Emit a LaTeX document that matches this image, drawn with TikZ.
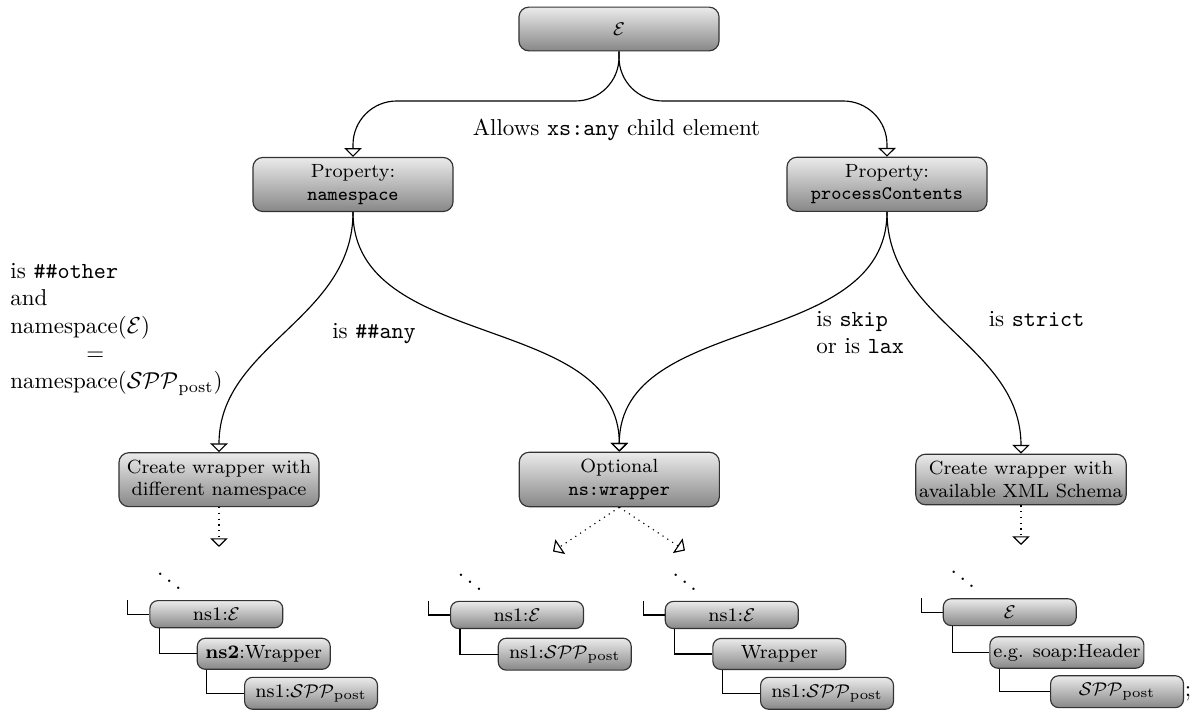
\documentclass[tikz,border=0pt]{standalone}
\usetikzlibrary{arrows.meta}
\begin{document}
\begin{tikzpicture}[x=0.4348pt, y=-0.4348pt,
  box/.style={draw=black!80, line width=0.5pt, rounded corners=4.3pt,
    top color=black!8, bottom color=black!47, font=\fontsize{8.3}{9.8}\selectfont,
    align=center, inner xsep=1.5pt, inner ysep=3.1pt, minimum width=87pt},
  leaf/.style={draw=black!80, line width=0.5pt, rounded corners=3.5pt,
    top color=black!8, bottom color=black!47, font=\fontsize{8.3}{9.8}\selectfont,
    inner xsep=1.5pt, inner ysep=3.1pt, minimum width=57.8pt, anchor=west},
  flow/.style={line width=0.5pt, -{Triangle[open,width=7.6pt,length=3.8pt]}},
  hint/.style={flow, dotted},
  link/.style={line width=0.5pt},
  lbl/.style={inner sep=0pt},
  dots/.style={inner sep=0pt, anchor=base}
]
\useasboundingbox (0,0) rectangle (1190,713);

% decision nodes
\node[box, minimum height=19pt] (E) at (619,29) {$\mathcal{E}$};
\node[box] (ns) at (353,184.5) {Property:\\\texttt{namespace}};
\node[box] (pc) at (887,184.3) {Property:\\\texttt{processContents}};
\node[box] (wl) at (219,479.7) {Create wrapper with\\different namespace};
\node[box] (opt) at (619.3,479.5) {Optional\\\texttt{ns:wrapper}};
\node[box] (wr) at (1021,479.5) {Create wrapper with\\available XML Schema};

% connectors between the decision nodes
\coordinate (cL) at (353,101);
\coordinate (cR) at (887,101);
\draw[flow, rounded corners=19pt] (E.south) |- (cL) -- (ns.north);
\draw[flow, rounded corners=19pt] (E.south) |- (cR) -- (pc.north);
\draw[flow] (ns.south) to[out=-90,in=90] (wl.north);
\draw[flow] (ns.south) to[out=-90,in=90] (opt.north);
\draw[flow] (pc.south) to[out=-90,in=90] (opt.north);
\draw[flow] (pc.south) to[out=-90,in=90] (wr.north);

% labels
\node[lbl, anchor=base] (allow) at (616.5,136) {Allows \texttt{xs:any} child element};
\node[lbl, anchor=north west, align=left] (cond) at (10,262.6)
  {is \texttt{\#\#other}\\and\\namespace($\mathcal{E}$)\\\hspace*{33pt}$=$\\namespace($\mathcal{SPP}_{\mathrm{post}}$)};
\node[lbl, anchor=base] (anyl) at (374,339) {is \texttt{\#\#any}};
\node[lbl, anchor=north west, align=left] (skipl) at (816,310.7) {is \texttt{skip}\\or is \texttt{lax}};
\node[lbl, anchor=base west] (strictl) at (988.3,326.7) {is \texttt{strict}};

% dotted hints towards the resulting trees
\coordinate (dWL) at (219,547);
\coordinate (dO1) at (553,551.5);
\coordinate (dO2) at (685,550.5);
\coordinate (dWR) at (1021,545);
\draw[hint] (wl.south) -- (dWL);
\draw[hint] (opt.south) -- (dO1);
\draw[hint] (opt.south) -- (dO2);
\draw[hint] (wr.south) -- (dWR);

% tree 1: different namespace
\node[leaf] (a1) at (149.3,614.2) {ns1:$\mathcal{E}$};
\node[leaf] (b1) at (196.7,653.8) {\textbf{ns2}:Wrapper};
\node[leaf] (c1) at (244,693.3) {ns1:$\mathcal{SPP}_{\mathrm{post}}$};
\coordinate (r1) at ([xshift=-9.3pt]a1.north west);
\node[dots] (d1) at ([xshift=8.7pt,yshift=3.7pt]a1.north west) {$\ddots$};
\draw[link] (r1) |- (a1.west);
\draw[link] ([xshift=4.35pt]a1.south west) |- (b1.west);
\draw[link] ([xshift=4.35pt]b1.south west) |- (c1.west);

% tree 2: no wrapper
\node[leaf] (a2) at (450,615) {ns1:$\mathcal{E}$};
\node[leaf] (b2) at (497.7,654.2) {ns1:$\mathcal{SPP}_{\mathrm{post}}$};
\coordinate (r2) at ([xshift=-9.3pt]a2.north west);
\node[dots] (d2) at ([xshift=8.7pt,yshift=3.7pt]a2.north west) {$\ddots$};
\draw[link] (r2) |- (a2.west);
\draw[link] ([xshift=4.35pt]a2.south west) |- (b2.west);

% tree 3: with wrapper
\node[leaf] (a3) at (664.7,615) {ns1:$\mathcal{E}$};
\node[leaf] (b3) at (712.3,654) {Wrapper};
\node[leaf] (c3) at (760,693.3) {ns1:$\mathcal{SPP}_{\mathrm{post}}$};
\coordinate (r3) at ([xshift=-9.3pt]a3.north west);
\node[dots] (d3) at ([xshift=8.7pt,yshift=3.7pt]a3.north west) {$\ddots$};
\draw[link] (r3) |- (a3.west);
\draw[link] ([xshift=4.35pt]a3.south west) |- (b3.west);
\draw[link] ([xshift=4.35pt]b3.south west) |- (c3.west);

% tree 4: schema-based wrapper
\node[leaf] (a4) at (942.7,612.2) {$\mathcal{E}$};
\node[leaf] (b4) at (989.3,652.5) {e.g. soap:Header};
\node[leaf] (c4) at (1050,691.7) {$\mathcal{SPP}_{\mathrm{post}}$};
\coordinate (r4) at ([xshift=-9.3pt]a4.north west);
\node[dots] (d4) at ([xshift=8.7pt,yshift=3.7pt]a4.north west) {$\ddots$};
\draw[link] (r4) |- (a4.west);
\draw[link] ([xshift=4.35pt]a4.south west) |- (b4.west);
\draw[link] ([xshift=4.35pt]b4.south west) |- (c4.west);
\node[lbl, anchor=base west] (semi) at (1184.5,697) {;};
\end{tikzpicture}
\end{document}
